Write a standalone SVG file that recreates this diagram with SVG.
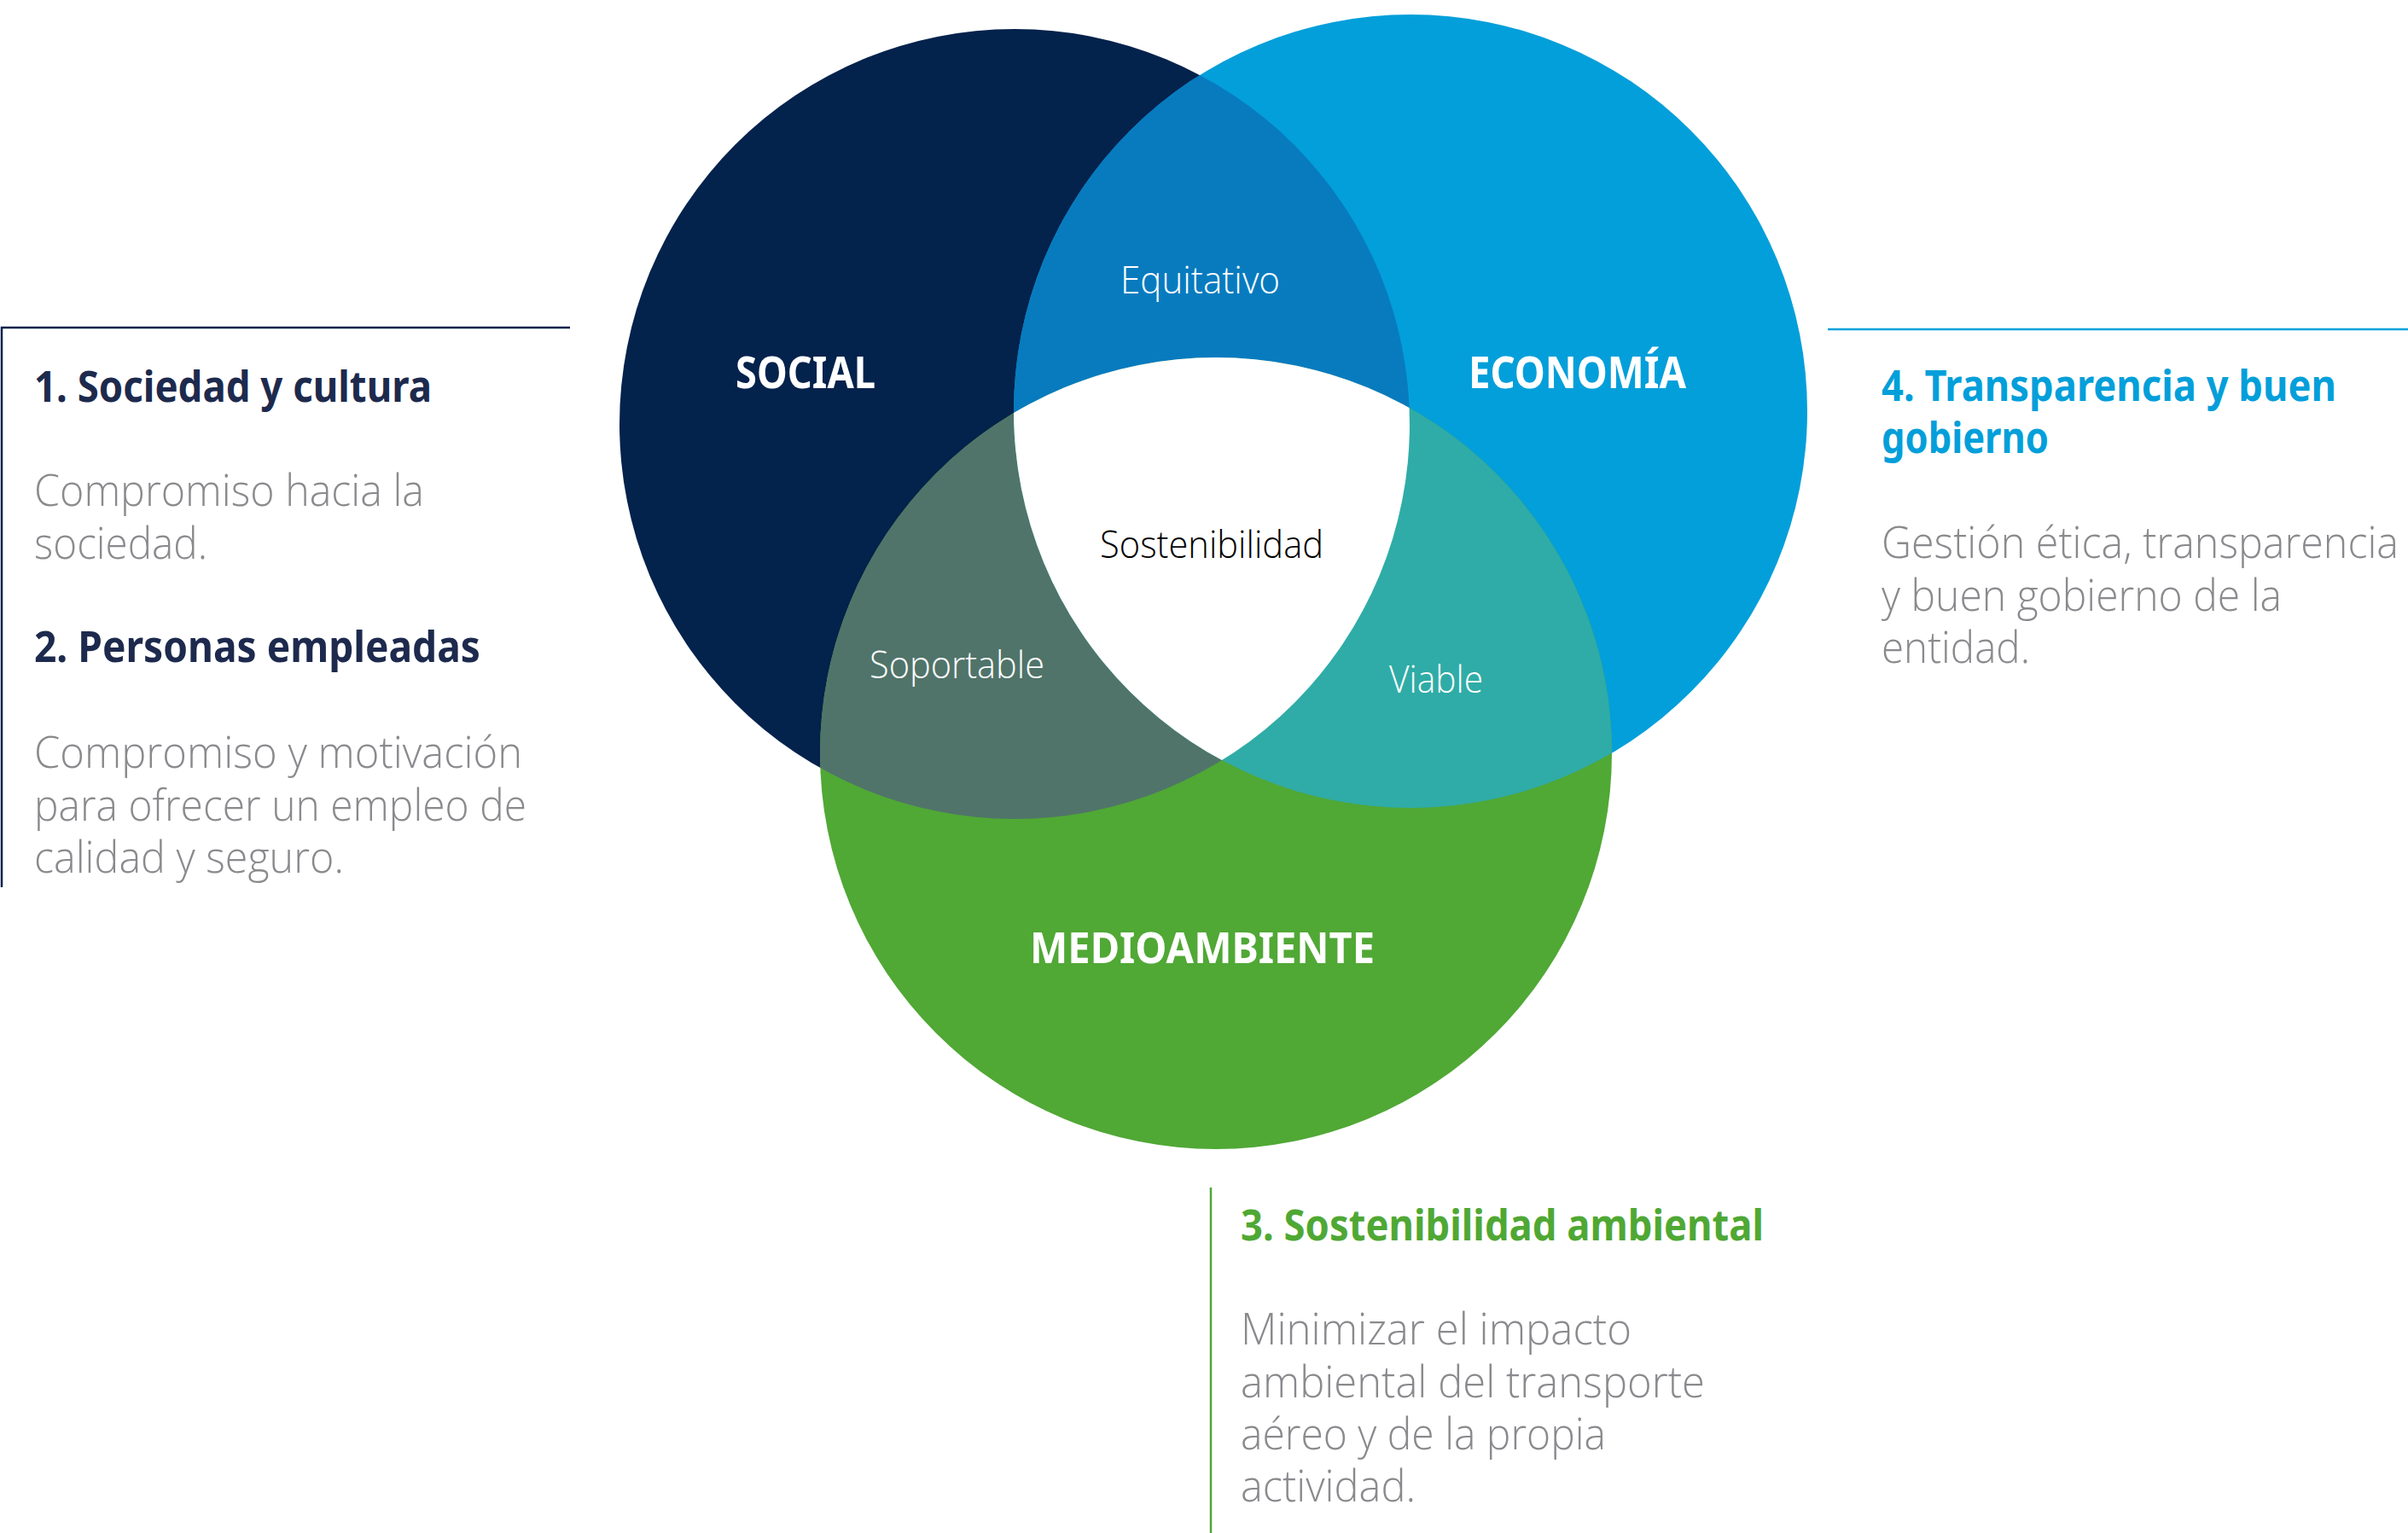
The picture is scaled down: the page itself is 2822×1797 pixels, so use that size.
<svg xmlns="http://www.w3.org/2000/svg" width="2822" height="1797" viewBox="0 0 2822 1797">
<style>
.hd{font-family:"Noto Sans","Open Sans","Liberation Sans",sans-serif;font-weight:700;font-size:50px}
.bd{font-family:"Open Sans","Noto Sans","Liberation Sans",sans-serif;font-weight:300;font-size:51px;fill:#8A8A8E}
.cl{font-family:"Noto Sans","Open Sans","Liberation Sans",sans-serif;font-weight:700;fill:#FFFFFF}
.il{font-family:"Open Sans","Noto Sans","Liberation Sans",sans-serif;font-weight:300;font-size:45px}
.navy{fill:#1D2A4D}
.blue{fill:#039FDA}
.green{fill:#4FA834}
</style>
<defs>
<clipPath id="clipS"><circle cx="1189" cy="497" r="463"/></clipPath>
<clipPath id="clipE"><circle cx="1653" cy="482" r="465"/></clipPath>
</defs>
<rect width="2822" height="1797" fill="#FFFFFF"/>

<g id="social">
<circle cx="1189" cy="497" r="463" fill="#03224C"/>
</g>
<g id="economia">
<circle cx="1653" cy="482" r="465" fill="#039FDA"/>
</g>
<g id="medioambiente">
<circle cx="1425" cy="883" r="464" fill="#50A835"/>
</g>
<g id="equitativo">
<circle cx="1653" cy="482" r="465" fill="#087BBF" clip-path="url(#clipS)"/>
</g>
<g id="soportable">
<circle cx="1425" cy="883" r="464" fill="#50746A" clip-path="url(#clipS)"/>
</g>
<g id="viable">
<circle cx="1425" cy="883" r="464" fill="#2FACA7" clip-path="url(#clipE)"/>
</g>
<g id="sostenibilidad">
<g clip-path="url(#clipS)"><circle cx="1425" cy="883" r="464" fill="#FFFFFF" clip-path="url(#clipE)"/></g>
</g>

<g id="circle-labels">
<text class="cl" x="862" y="455" font-size="52" textLength="164" lengthAdjust="spacingAndGlyphs">SOCIAL</text>
<text class="cl" x="1721" y="455" font-size="52" textLength="255" lengthAdjust="spacingAndGlyphs">ECONOMÍA</text>
<text class="cl" x="1207" y="1129" font-size="51" textLength="404" lengthAdjust="spacingAndGlyphs">MEDIOAMBIENTE</text>
<text class="il" x="1313" y="344" fill="#FFFFFF" textLength="187" lengthAdjust="spacingAndGlyphs">Equitativo</text>
<text class="il" x="1289" y="654" fill="#000000" font-size="47" textLength="262" lengthAdjust="spacingAndGlyphs">Sostenibilidad</text>
<text class="il" x="1019" y="795" fill="#FFFFFF" textLength="205" lengthAdjust="spacingAndGlyphs">Soportable</text>
<text class="il" x="1628" y="812" fill="#FFFFFF" textLength="110" lengthAdjust="spacingAndGlyphs">Viable</text>
</g>

<g id="connectors" fill="none" stroke-width="2.5">
<polyline points="668,384 2,384 2,1040" stroke="#03224C"/>
<line x1="2142" y1="386" x2="2822" y2="386" stroke="#039FDA"/>
<line x1="1419" y1="1392" x2="1419" y2="1797" stroke="#4FA834"/>
</g>

<g id="panel-social">
<text class="hd navy" x="40" y="471" textLength="466" lengthAdjust="spacingAndGlyphs">1. Sociedad y cultura</text>
<text class="bd" x="40" y="593" textLength="457" lengthAdjust="spacingAndGlyphs">Compromiso hacia la</text>
<text class="bd" x="40" y="655" textLength="203" lengthAdjust="spacingAndGlyphs">sociedad.</text>
<text class="hd navy" x="40" y="776" textLength="523" lengthAdjust="spacingAndGlyphs">2. Personas empleadas</text>
<text class="bd" x="40" y="900" textLength="572" lengthAdjust="spacingAndGlyphs">Compromiso y motivación</text>
<text class="bd" x="40" y="962" textLength="577" lengthAdjust="spacingAndGlyphs">para ofrecer un empleo de</text>
<text class="bd" x="40" y="1023" textLength="363" lengthAdjust="spacingAndGlyphs">calidad y seguro.</text>
</g>

<g id="panel-economia">
<text class="hd blue" x="2205" y="470" textLength="533" lengthAdjust="spacingAndGlyphs">4. Transparencia y buen</text>
<text class="hd blue" x="2205" y="531" textLength="196" lengthAdjust="spacingAndGlyphs">gobierno</text>
<text class="bd" x="2811" y="654" text-anchor="end" textLength="606" lengthAdjust="spacingAndGlyphs">Gestión ética, transparencia</text>
<text class="bd" x="2205" y="716" textLength="469" lengthAdjust="spacingAndGlyphs">y buen gobierno de la</text>
<text class="bd" x="2205" y="777" textLength="174" lengthAdjust="spacingAndGlyphs">entidad.</text>
</g>

<g id="panel-medioambiente">
<text class="hd green" x="1454" y="1454" textLength="613" lengthAdjust="spacingAndGlyphs">3. Sostenibilidad ambiental</text>
<text class="bd" x="1454" y="1576" textLength="458" lengthAdjust="spacingAndGlyphs">Minimizar el impacto</text>
<text class="bd" x="1454" y="1638" textLength="544" lengthAdjust="spacingAndGlyphs">ambiental del transporte</text>
<text class="bd" x="1454" y="1699" textLength="428" lengthAdjust="spacingAndGlyphs">aéreo y de la propia</text>
<text class="bd" x="1454" y="1760" textLength="205" lengthAdjust="spacingAndGlyphs">actividad.</text>
</g>
</svg>
